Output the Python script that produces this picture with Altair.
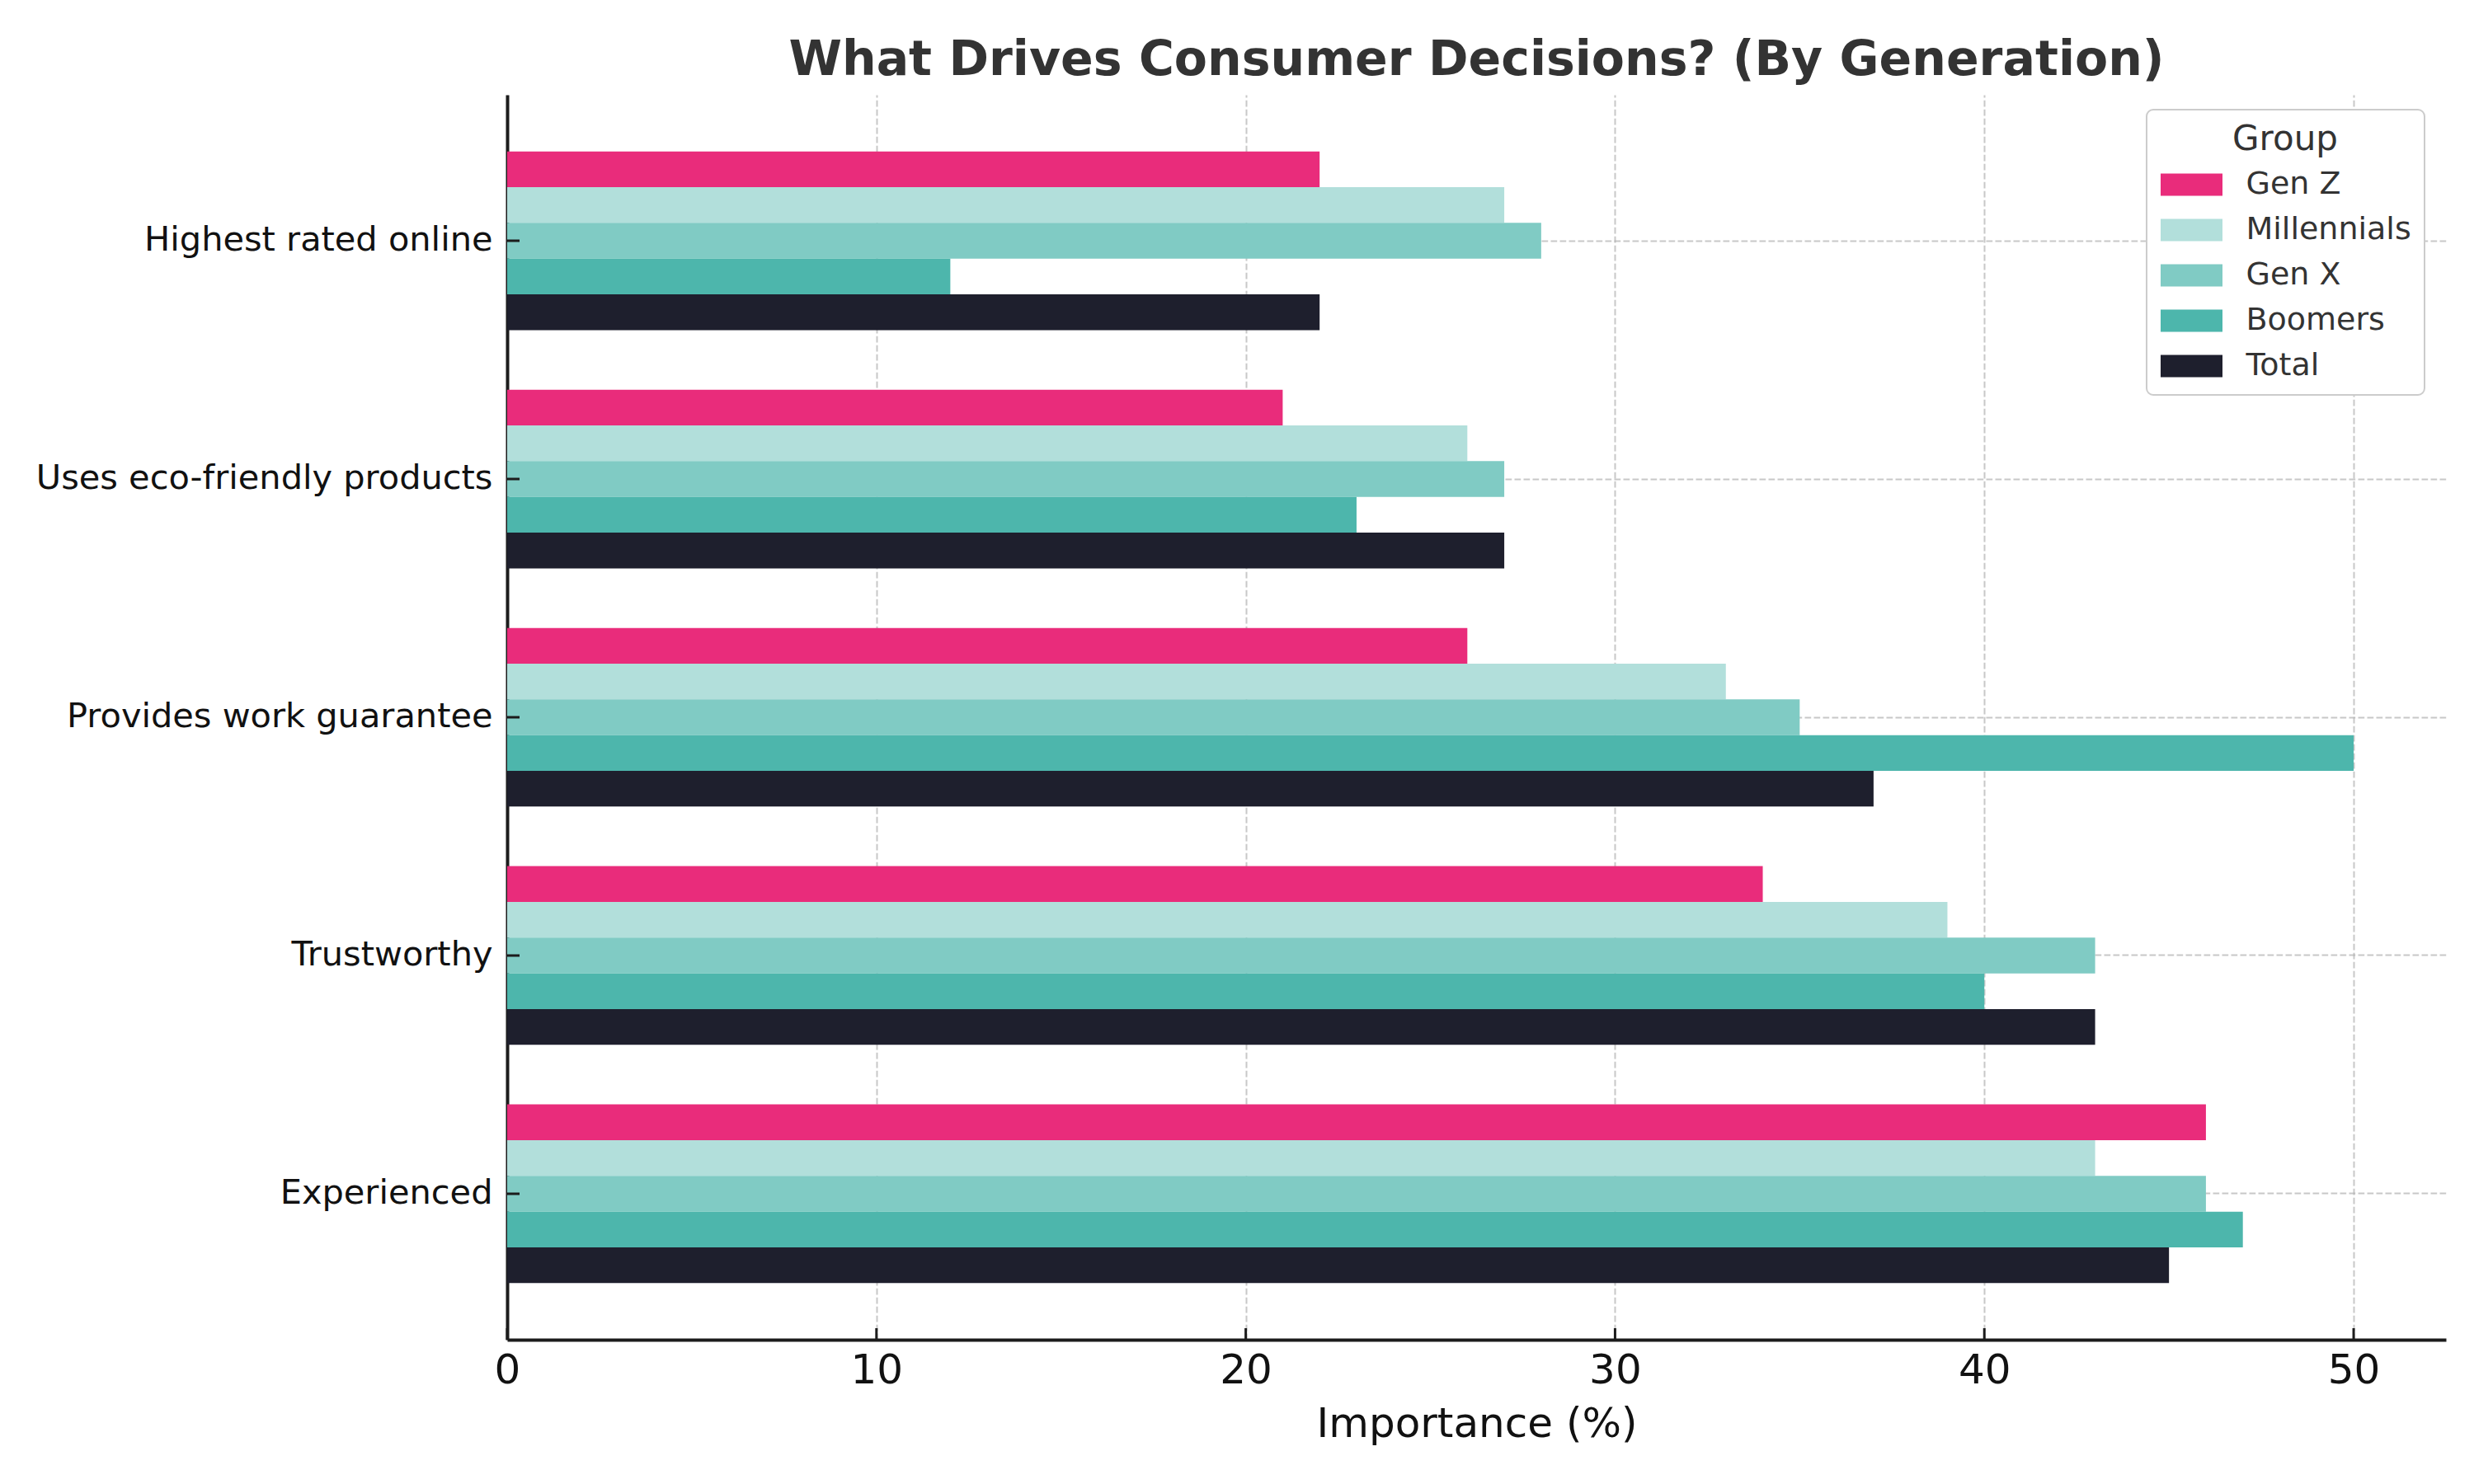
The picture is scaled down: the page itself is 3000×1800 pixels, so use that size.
import altair as alt
import pandas as pd

categories = [
    "Highest rated online",
    "Uses eco-friendly products",
    "Provides work guarantee",
    "Trustworthy",
    "Experienced",
]
groups = ["Gen Z", "Millennials", "Gen X", "Boomers", "Total"]
gen_z = [22, 21, 26, 34, 46]
millennials = [27, 26, 33, 39, 43]
gen_x = [28, 27, 35, 43, 46]
boomers = [12, 23, 50, 40, 47]
total = [22, 27, 37, 43, 45]
colors = ["#E92C7B", "#B2DFDB", "#80CBC4", "#4DB6AC", "#1E1F2D"]

x_ticks = [0, 10, 20, 30, 40, 50]
x_max = 52.5

rows = []
for g, vals in zip(groups, [gen_z, millennials, gen_x, boomers, total]):
    for c, v in zip(categories, vals):
        rows.append({"Category": c, "Group": g, "Value": v})
df = pd.DataFrame(rows)

W, H = 2351, 1510
FONT = "DejaVu Sans"

y_scale = alt.Scale(domain=categories, paddingInner=0.25, paddingOuter=0.2375)
x_scale = alt.Scale(domain=[0, x_max], nice=False, zero=True)

bars = alt.Chart(df).mark_bar().encode(
    x=alt.X(
        "Value:Q",
        scale=x_scale,
        axis=alt.Axis(
            values=x_ticks,
            title="Importance (%)",
            grid=True,
            ticks=False,
            labelFontSize=50,
            labelColor="#111111",
            labelPadding=12,
            labelFlush=False,
            labelOverlap=False,
            titleFontSize=50,
            titleFontWeight="normal",
            titleColor="#111111",
            titlePadding=15,
        ),
    ),
    y=alt.Y(
        "Category:N",
        sort=categories,
        scale=y_scale,
        axis=alt.Axis(
            title=None,
            grid=True,
            ticks=False,
            bandPosition=0.5,
            labelFontSize=41.5,
            labelColor="#111111",
            labelPadding=18,
            labelLimit=1000,
        ),
    ),
    yOffset=alt.YOffset(
        "Group:N",
        sort=groups,
        scale=alt.Scale(domain=groups, paddingInner=0, paddingOuter=0),
    ),
    color=alt.Color(
        "Group:N",
        sort=groups,
        scale=alt.Scale(domain=groups, range=colors),
        legend=alt.Legend(
            title="Group",
            orient="none",
            legendX=1988,
            legendY=18,
            titleAnchor="middle",
            titleFontSize=42,
            titleFontWeight="normal",
            titleColor="#333333",
            labelFontSize=38,
            labelColor="#333333",
            labelLimit=1000,
            symbolType="M-2.0833,-0.75H2.0833V0.75H-2.0833Z",
            symbolSize=1296,
            symbolStrokeWidth=0,
            symbolOpacity=1,
            symbolOffset=19.5,
            labelOffset=47,
            padding=16,
            rowPadding=17,
            titlePadding=14,
            fillColor="white",
            strokeColor="#cccccc",
            cornerRadius=8,
            zindex=2,
        ),
    ),
)

xtick_df = pd.DataFrame({"Value": x_ticks})
xticks = alt.Chart(xtick_df).mark_rule(color="#1c1c1c", strokeWidth=3).encode(
    x=alt.X("Value:Q", scale=x_scale),
    y=alt.value(H - 14),
    y2=alt.value(H),
)

ytick_df = pd.DataFrame({"Category": categories})
yticks = alt.Chart(ytick_df).mark_rule(color="#1c1c1c", strokeWidth=3).encode(
    y=alt.Y("Category:N", sort=categories, scale=y_scale),
    x=alt.value(0),
    x2=alt.value(15),
)

chart = (
    alt.layer(bars, xticks, yticks)
    .properties(
        width=W,
        height=H,
        autosize=alt.AutoSizeParams(type="none"),
        padding={"left": 607, "top": 107, "right": 26, "bottom": 167},
        title=alt.TitleParams(
            "What Drives Consumer Decisions? (By Generation)",
            fontSize=58.5,
            fontWeight="bold",
            color="#333333",
            font=FONT,
            anchor="middle",
            baseline="alphabetic",
            offset=24,
            dy=58,
        ),
    )
    .configure(font=FONT, background="white")
    .configure_view(stroke=None)
    .configure_axis(
        domainColor="#1c1c1c",
        domainWidth=4,
        gridColor="#b0b0b0",
        gridOpacity=0.7,
        gridWidth=2,
        gridDash=[7.7, 3.3],
        labelFont=FONT,
        titleFont=FONT,
        zindex=1,
    )
    .configure_legend(
        labelFont=FONT,
        titleFont=FONT,
        strokeWidth=2,
    )
)

chart.save("out.html", embed_options={"renderer": "svg", "actions": False})
